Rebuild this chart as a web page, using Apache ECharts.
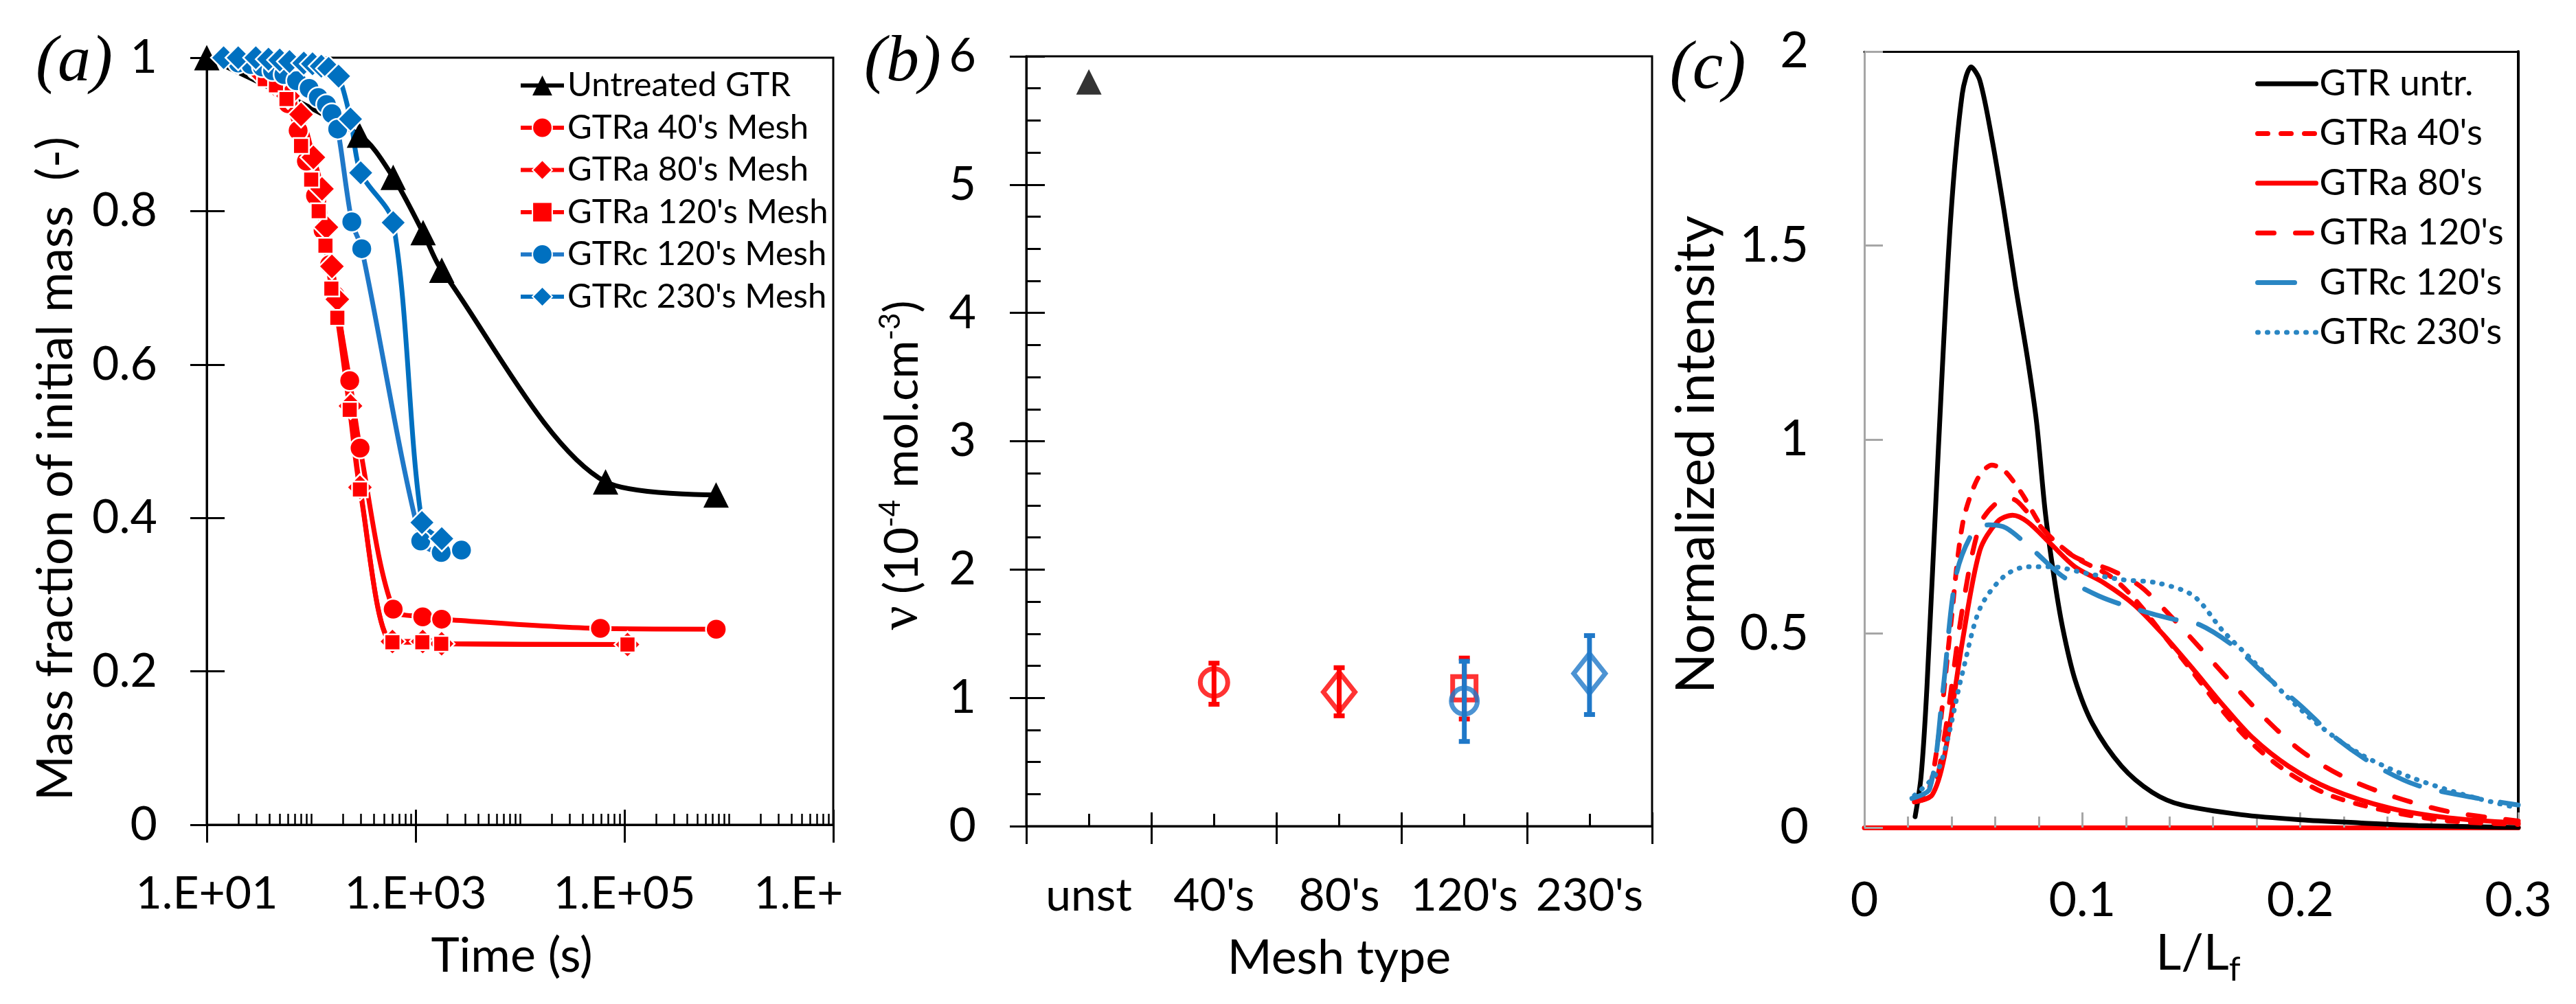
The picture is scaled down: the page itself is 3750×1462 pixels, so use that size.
<!DOCTYPE html>
<html><head><meta charset="utf-8">
<script src="https://cdn.jsdelivr.net/npm/echarts@6/dist/echarts.min.js"></script>
<style>html,body{margin:0;padding:0;background:#fff}#c{width:3750px;height:1462px}</style>
</head><body><div id="c"></div>
<script>
// ---------- Panel (a): mass fraction vs time ----------
const timeTickValues = [10, 1e3, 1e5, 1e7];
const timeTickLabels = ['1.E+01', '1.E+03', '1.E+05', '1.E+\u00a0\u00a0\u00a0\u00a0\u00a0\u00a0'];
const timeMinorTicks = [20,30,40,50,60,70,80,90,100,200,300,400,500,600,700,800,900,
  2e3,3e3,4e3,5e3,6e3,7e3,8e3,9e3,1e4,2e4,3e4,4e4,5e4,6e4,7e4,8e4,9e4,
  2e5,3e5,4e5,5e5,6e5,7e5,8e5,9e5,1e6,2e6,3e6,4e6,5e6,6e6,7e6,8e6,9e6];

const untreatedT = [10, 290, 610, 1180, 1780, 66000, 755000];
const untreatedM = [1.0, 0.899, 0.844, 0.772, 0.723, 0.447, 0.430];

const gtra40T = [20, 30, 40, 50, 60, 75, 90, 110, 130, 150, 170, 234, 294, 610, 1170, 1775, 58900, 757000];
const gtra40M = [0.995, 0.985, 0.975, 0.96, 0.94, 0.905, 0.865, 0.82, 0.775, 0.73, 0.69, 0.579, 0.491, 0.281, 0.271, 0.268, 0.256, 0.255];

const gtra80T = [20, 30, 45, 60, 80, 105, 127, 140, 158, 178, 238, 293, 600, 1170, 1775, 107000];
const gtra80M = [0.995, 0.985, 0.968, 0.95, 0.926, 0.870, 0.829, 0.779, 0.728, 0.685, 0.546, 0.440, 0.239, 0.239, 0.236, 0.235];

const gtra120T = [36, 46, 58, 80, 100, 118, 137, 156, 178, 234, 293, 600, 1160, 1760, 107000];
const gtra120M = [0.972, 0.964, 0.946, 0.885, 0.841, 0.800, 0.755, 0.699, 0.661, 0.541, 0.437, 0.238, 0.238, 0.236, 0.235];

const gtrc120T = [20, 26.4, 34, 42.7, 54.8, 72.4, 95.6, 117, 140, 158, 179.5, 245, 305, 1120, 1760, 2750];
const gtrc120M = [0.993, 0.991, 0.988, 0.983, 0.978, 0.970, 0.960, 0.948, 0.939, 0.927, 0.907, 0.786, 0.751, 0.370, 0.355, 0.358];

const gtrc230T = [14.5, 20, 29.5, 39, 50, 62, 85, 103, 125, 147, 183, 238, 298, 610, 1150, 1780];
const gtrc230M = [1.0, 1.0, 1.0, 0.998, 0.997, 0.995, 0.993, 0.992, 0.989, 0.986, 0.976, 0.920, 0.850, 0.785, 0.394, 0.373];

// ---------- Panel (b): crosslink density by mesh type ----------
const meshCategories = ["unst", "40's", "80's", "120's", "230's"];
const untreatedNuCat = [0];
const untreatedNu = [5.80];
const gtraNuCat = [1, 2, 3];
const gtraNu = [1.12, 1.045, 1.075];
const gtraNuLow = [0.95, 0.86, 0.835];
const gtraNuHigh = [1.27, 1.235, 1.31];
const gtrcNuCat = [3, 4];
const gtrcNu = [0.975, 1.19];
const gtrcNuLow = [0.66, 0.87];
const gtrcNuHigh = [1.285, 1.485];

// ---------- Panel (c): normalized intensity vs L/Lf ----------
const untrX = [0.0233, 0.026, 0.0287, 0.034, 0.0395, 0.0449, 0.049, 0.053, 0.0585, 0.064, 0.0694, 0.0748, 0.079, 0.083, 0.087, 0.091, 0.0966, 0.1048, 0.118, 0.132, 0.1456, 0.173, 0.2, 0.227, 0.254, 0.3];
const untrY = [0.028, 0.13, 0.36, 0.98, 1.56, 1.89, 1.96, 1.925, 1.776, 1.593, 1.394, 1.211, 1.045, 0.813, 0.647, 0.514, 0.382, 0.266, 0.158, 0.091, 0.058, 0.033, 0.02, 0.012, 0.005, 0.0];
const a40X = [0.0223, 0.0286, 0.034, 0.0395, 0.045, 0.0517, 0.0585, 0.064, 0.072, 0.083, 0.0966, 0.113, 0.124, 0.137, 0.151, 0.1646, 0.178, 0.1946, 0.2136, 0.241, 0.268, 0.3];
const a40Y = [0.075, 0.083, 0.232, 0.514, 0.78, 0.896, 0.934, 0.921, 0.863, 0.763, 0.697, 0.647, 0.589, 0.498, 0.398, 0.299, 0.216, 0.141, 0.083, 0.041, 0.017, 0.008];
const a80X = [0.023, 0.031, 0.0367, 0.045, 0.053, 0.061, 0.068, 0.0748, 0.0857, 0.0966, 0.110, 0.124, 0.137, 0.151, 0.1646, 0.178, 0.1946, 0.2136, 0.241, 0.268, 0.3];
const a80Y = [0.066, 0.083, 0.183, 0.48, 0.714, 0.788, 0.805, 0.788, 0.73, 0.672, 0.63, 0.573, 0.498, 0.407, 0.315, 0.232, 0.158, 0.1, 0.05, 0.025, 0.012];
const a120X = [0.023, 0.031, 0.0367, 0.045, 0.053, 0.061, 0.068, 0.0748, 0.0857, 0.0966, 0.113, 0.1265, 0.14, 0.1537, 0.167, 0.1837, 0.2, 0.219, 0.241, 0.268, 0.3];
const a120Y = [0.066, 0.085, 0.232, 0.564, 0.78, 0.838, 0.846, 0.813, 0.747, 0.697, 0.664, 0.622, 0.548, 0.465, 0.382, 0.282, 0.199, 0.133, 0.083, 0.041, 0.017];
const c120X = [0.0218, 0.03, 0.036, 0.042, 0.05, 0.057, 0.065, 0.0776, 0.091, 0.1075, 0.124, 0.14, 0.1537, 0.17, 0.186, 0.2, 0.216, 0.235, 0.254, 0.2816, 0.3];
const c120Y = [0.075, 0.1, 0.35, 0.647, 0.763, 0.78, 0.772, 0.714, 0.647, 0.597, 0.564, 0.539, 0.523, 0.465, 0.382, 0.315, 0.232, 0.158, 0.108, 0.075, 0.058];
const c230X = [0.023, 0.034, 0.045, 0.053, 0.064, 0.0748, 0.0857, 0.102, 0.118, 0.1347, 0.151, 0.1646, 0.178, 0.192, 0.208, 0.227, 0.249, 0.276, 0.3];
const c230Y = [0.083, 0.149, 0.398, 0.564, 0.647, 0.672, 0.672, 0.655, 0.639, 0.63, 0.597, 0.506, 0.431, 0.348, 0.266, 0.191, 0.133, 0.083, 0.05];

// ---------------- rendering ----------------
const FONT = 'Lato';
const RED = '#FF0000', BLUE = '#0070C0', BLUE2 = '#1F78C8', CBLUE = '#2A86C3', GRAY = '#A6A6A6';
const pairs = (x, y) => x.map((v, i) => [v, y[i]]);
const noAxisExtras = {axisLabel:{show:false}, axisLine:{show:false}, splitLine:{show:false}};

const chart = echarts.init(document.getElementById('c'), null, {renderer:'canvas', width:3750, height:1462});

const labelStyle = (size) => ({fontFamily: FONT, fontSize: size, color: '#000'});

function errorBarSeries(name, cat, low, high, color) {
  return {
    name, type: 'custom', xAxisIndex: 3, yAxisIndex: 2, z: 5,
    data: cat.map((c, i) => [c, low[i], high[i]]),
    encode: {x: 0, y: [1, 2]},
    renderItem: (params, api) => {
      const x = api.value(0);
      const p1 = api.coord([x, api.value(1)]);
      const p2 = api.coord([x, api.value(2)]);
      const cap = 8;
      const st = {stroke: color, lineWidth: 7};
      return {type: 'group', children: [
        {type: 'line', shape: {x1: p1[0], y1: p1[1], x2: p2[0], y2: p2[1]}, style: st},
        {type: 'line', shape: {x1: p1[0] - cap, y1: p1[1], x2: p1[0] + cap, y2: p1[1]}, style: st},
        {type: 'line', shape: {x1: p2[0] - cap, y1: p2[1], x2: p2[0] + cap, y2: p2[1]}, style: st}
      ]};
    }
  };
}
const gtraSymbols = ['circle', 'diamond', 'rect'];
const gtraSizes = [40, [46, 58], 34];
const gtrcSymbols = ['circle', 'diamond'];
const gtrcSizes = [38, [46, 58]];

const aLine = (name, t, m, color, lineColor, symbol, size) => ({
  name, type: 'line', xAxisIndex: 0, yAxisIndex: 0, data: pairs(t, m),
  symbol, symbolSize: size, smooth: 0.3,
  lineStyle: {color: lineColor, width: 7},
  itemStyle: {color, borderColor: '#fff', borderWidth: 2.5, opacity: 1}
});

const cLine = (name, x, y, color, type, cap) => ({
  name, type: 'line', xAxisIndex: 6, yAxisIndex: 4, data: pairs(x, y),
  symbol: 'none', smooth: 0.3,
  lineStyle: {color, width: 7, type, cap: cap || 'round'},
  itemStyle: {color}
});

const option = {
  animation: false,
  backgroundColor: '#fff',
  textStyle: {fontFamily: FONT},
  grid: [
    {left: 301, top: 84, width: 912, height: 1117, show: true, borderColor: '#000', borderWidth: 3, outerBoundsMode: 'none', containLabel: false},
    {left: 1494, top: 82, width: 911, height: 1121, show: true, borderColor: '#000', borderWidth: 3, outerBoundsMode: 'none', containLabel: false},
    {left: 2714, top: 75, width: 952, height: 1130, show: false, outerBoundsMode: 'none', containLabel: false}
  ],
  xAxis: [
    // 0: panel a main log axis
    {type: 'log', logBase: 10, gridIndex: 0, min: 10, max: 1e7, position: 'bottom',
     name: 'Time (s)', nameLocation: 'middle', nameGap: 191, nameMoveOverlap: false,
     nameTextStyle: Object.assign(labelStyle(70), {verticalAlign: 'middle', padding: [0, 24, 0, 0]}),
     axisLine: {show: true, onZero: false, lineStyle: {color: '#000', width: 3}},
     axisTick: {show: true, inside: false, length: 26, customValues: timeTickValues, lineStyle: {color: '#000', width: 3}},
     axisLabel: Object.assign(labelStyle(66), {customValues: timeTickValues, margin: 68,
       formatter: (v) => { const i = timeTickValues.findIndex(t => Math.abs(Math.log10(t) - Math.log10(v)) < 1e-6); return i >= 0 ? timeTickLabels[i] : ''; }}),
     splitLine: {show: false}},
    // 1: panel a inside major ticks
    Object.assign({type: 'log', logBase: 10, gridIndex: 0, min: 10, max: 1e7, position: 'bottom',
     axisTick: {show: true, inside: true, length: 22, customValues: timeTickValues, lineStyle: {color: '#000', width: 3}}}, noAxisExtras),
    // 2: panel a minor ticks
    Object.assign({type: 'log', logBase: 10, gridIndex: 0, min: 10, max: 1e7, position: 'bottom',
     axisTick: {show: true, inside: true, length: 16, customValues: timeMinorTicks, lineStyle: {color: '#000', width: 2.5}}}, noAxisExtras),
    // 3: panel b category main
    {type: 'category', gridIndex: 1, data: meshCategories, position: 'bottom', boundaryGap: true,
     name: 'Mesh type', nameLocation: 'middle', nameGap: 192, nameMoveOverlap: false,
     nameTextStyle: Object.assign(labelStyle(70), {verticalAlign: 'middle'}),
     axisLine: {show: true, onZero: false, lineStyle: {color: '#000', width: 3}},
     axisTick: {show: true, inside: false, length: 26, interval: 0, lineStyle: {color: '#000', width: 3}},
     axisLabel: Object.assign(labelStyle(66), {interval: 0, margin: 69}),
     splitLine: {show: false}},
    // 4: panel b inside boundary ticks
    Object.assign({type: 'category', gridIndex: 1, data: meshCategories, position: 'bottom', boundaryGap: true,
     axisTick: {show: true, inside: true, length: 20, interval: 0, lineStyle: {color: '#000', width: 3}}}, noAxisExtras),
    // 5: panel b center ticks
    Object.assign({type: 'category', gridIndex: 1, data: meshCategories, position: 'bottom', boundaryGap: true,
     axisTick: {show: true, inside: true, length: 18, interval: 0, alignWithLabel: true, lineStyle: {color: '#000', width: 3}}}, noAxisExtras),
    // 6: panel c main
    {type: 'value', gridIndex: 2, min: 0, max: 0.3, interval: 0.1, position: 'bottom',
     name: 'L/L{sub|f}', nameLocation: 'middle', nameGap: 184, nameMoveOverlap: false,
     nameTextStyle: Object.assign(labelStyle(72), {verticalAlign: 'middle', padding: [0, 0, 0, 20],
       rich: {sub: {fontFamily: FONT, fontSize: 48, color: '#000', padding: [48, 0, 0, 0], verticalAlign: 'bottom'}}}),
     axisLine: {show: true, onZero: false, lineStyle: {color: RED, width: 7}},
     axisTick: {show: true, inside: true, length: 22, lineStyle: {color: GRAY, width: 3}},
     minorTick: {show: true, splitNumber: 5, length: 16, lineStyle: {color: GRAY, width: 3}},
     axisLabel: Object.assign(labelStyle(70), {margin: 71}),
     splitLine: {show: false}, minorSplitLine: {show: false}},
    // 7: panel c top border
    Object.assign({type: 'value', gridIndex: 2, min: 0, max: 0.3, position: 'top',
     axisTick: {show: false}}, noAxisExtras, {axisLine: {show: true, onZero: false, lineStyle: {color: '#000', width: 3}}})
  ],
  yAxis: [
    // 0: panel a main
    {type: 'value', gridIndex: 0, min: 0, max: 1, interval: 0.2, position: 'left',
     name: 'Mass fraction of initial mass  (-)', nameLocation: 'middle', nameGap: 219, nameMoveOverlap: false,
     nameTextStyle: Object.assign(labelStyle(71), {verticalAlign: 'middle', padding: [0, 80, 0, 0]}),
     axisLine: {show: true, onZero: false, lineStyle: {color: '#000', width: 3}},
     axisTick: {show: true, inside: false, length: 24, lineStyle: {color: '#000', width: 3}},
     axisLabel: Object.assign(labelStyle(68), {margin: 72}),
     splitLine: {show: false}},
    // 1: panel a inside ticks
    Object.assign({type: 'value', gridIndex: 0, min: 0, max: 1, interval: 0.2, position: 'left',
     axisTick: {show: true, inside: true, length: 26, lineStyle: {color: '#000', width: 3}}}, noAxisExtras),
    // 2: panel b main
    {type: 'value', gridIndex: 1, min: 0, max: 6, interval: 1, position: 'left',
     name: '{nu|\u03bd} (10{sup|-4} mol.cm{sup|-3})', nameLocation: 'middle', nameGap: 180, nameMoveOverlap: false,
     nameTextStyle: Object.assign(labelStyle(68), {verticalAlign: 'middle', padding: [0, 70, 0, 0],
       rich: {nu: {fontFamily: 'Liberation Serif', fontSize: 78, color: '#000'},
              sup: {fontFamily: FONT, fontSize: 42, color: '#000', verticalAlign: 'top'}}}),
     axisLine: {show: true, onZero: false, lineStyle: {color: '#000', width: 3}},
     axisTick: {show: true, inside: false, length: 24, lineStyle: {color: '#000', width: 3}},
     axisLabel: Object.assign(labelStyle(68), {margin: 73}),
     splitLine: {show: false}},
    // 3: panel b inside ticks + minor
    Object.assign({type: 'value', gridIndex: 1, min: 0, max: 6, interval: 1, position: 'left',
     axisTick: {show: true, inside: true, length: 27, lineStyle: {color: '#000', width: 3}},
     minorTick: {show: true, splitNumber: 4, length: 21, lineStyle: {color: '#000', width: 3}}}, noAxisExtras),
    // 4: panel c main
    {type: 'value', gridIndex: 2, min: 0, max: 2, interval: 0.5, position: 'left',
     name: 'Normalized intensity', nameLocation: 'middle', nameGap: 244, nameMoveOverlap: false,
     nameTextStyle: Object.assign(labelStyle(77), {verticalAlign: 'middle', padding: [0, 44, 0, 0]}),
     axisLine: {show: true, onZero: false, lineStyle: {color: GRAY, width: 3}},
     axisTick: {show: true, inside: true, length: 27, lineStyle: {color: GRAY, width: 3}},
     axisLabel: Object.assign(labelStyle(72), {margin: 81}),
     splitLine: {show: false}},
    // 5: panel c right border
    Object.assign({type: 'value', gridIndex: 2, min: 0, max: 2, position: 'right',
     axisTick: {show: false}}, noAxisExtras, {axisLine: {show: true, onZero: false, lineStyle: {color: '#000', width: 4}}})
  ],
  legend: [
    {data: ['Untreated GTR', "GTRa 40's Mesh", "GTRa 80's Mesh", "GTRa 120's Mesh", "GTRc 120's Mesh", "GTRc 230's Mesh"],
     orient: 'vertical', left: 755, top: 100, padding: 0, itemWidth: 63, itemHeight: 36, itemGap: 12.5,
     selectedMode: false, textStyle: {fontFamily: FONT, fontSize: 49, color: '#000', lineHeight: 48},
     lineStyle: {width: 6}},
    {data: ['GTR untr.', "GTRa 40's", "GTRa 80's", "GTRa 120's", "GTRc 120's", "GTRc 230's"],
     orient: 'vertical', left: 3283, top: 94, padding: 0, itemWidth: 85, itemHeight: 30, itemGap: 16.4,
     selectedMode: false, textStyle: {fontFamily: FONT, fontSize: 53, color: '#000', lineHeight: 56},
     lineStyle: {width: 7, cap: 'round'},
     itemStyle: {opacity: 0}}
  ],
  graphic: [
    {type: 'text', x: 108, y: 92, style: {text: '(a)', font: 'italic 96px "Liberation Serif"', fill: '#000', align: 'center', verticalAlign: 'middle'}},
    {type: 'text', x: 1314, y: 92, style: {text: '(b)', font: 'italic 96px "Liberation Serif"', fill: '#000', align: 'center', verticalAlign: 'middle'}},
    {type: 'text', x: 2486, y: 102, style: {text: '(c)', font: 'italic 100px "Liberation Serif"', fill: '#000', align: 'center', verticalAlign: 'middle'}}
  ],
  series: [
    // panel a
    Object.assign(aLine('Untreated GTR', untreatedT, untreatedM, '#000', '#000', 'triangle', 37), {itemStyle: {color: '#000', borderWidth: 0}}),
    aLine("GTRa 40's Mesh", gtra40T, gtra40M, RED, RED, 'circle', 30),
    aLine("GTRa 80's Mesh", gtra80T, gtra80M, RED, RED, 'diamond', 38),
    aLine("GTRa 120's Mesh", gtra120T, gtra120M, RED, RED, 'rect', 23),
    aLine("GTRc 120's Mesh", gtrc120T, gtrc120M, BLUE, BLUE2, 'circle', 30),
    aLine("GTRc 230's Mesh", gtrc230T, gtrc230M, BLUE, BLUE, 'diamond', 37),
    // panel b
    {name: 'unst nu', type: 'scatter', xAxisIndex: 3, yAxisIndex: 2, symbol: 'triangle', symbolSize: 37,
     itemStyle: {color: '#000'}, data: untreatedNuCat.map((c, i) => [c, untreatedNu[i]])},
    errorBarSeries('GTRa nu err', gtraNuCat, gtraNuLow, gtraNuHigh, RED),
    {name: 'GTRa nu', type: 'scatter', xAxisIndex: 3, yAxisIndex: 2, z: 4,
     itemStyle: {color: 'rgba(0,0,0,0)', borderColor: RED, borderWidth: 7},
     data: gtraNuCat.map((c, i) => ({value: [c, gtraNu[i]], symbol: gtraSymbols[i], symbolSize: gtraSizes[i]}))},
    errorBarSeries('GTRc nu err', gtrcNuCat, gtrcNuLow, gtrcNuHigh, BLUE2),
    {name: 'GTRc nu', type: 'scatter', xAxisIndex: 3, yAxisIndex: 2, z: 6,
     itemStyle: {color: 'rgba(0,0,0,0)', borderColor: BLUE2, borderWidth: 7},
     data: gtrcNuCat.map((c, i) => ({value: [c, gtrcNu[i]], symbol: gtrcSymbols[i], symbolSize: gtrcSizes[i]}))},
    // panel c
    cLine('GTR untr.', untrX, untrY, '#000', 'solid'),
    cLine("GTRa 40's", a40X, a40Y, RED, [15, 19]),
    cLine("GTRa 80's", a80X, a80Y, RED, 'solid'),
    cLine("GTRa 120's", a120X, a120Y, RED, [24, 31]),
    cLine("GTRc 120's", c120X, c120Y, CBLUE, [54, 33]),
    cLine("GTRc 230's", c230X, c230Y, CBLUE, [1, 13])
  ]
};
chart.setOption(option);
</script>
</body></html>
